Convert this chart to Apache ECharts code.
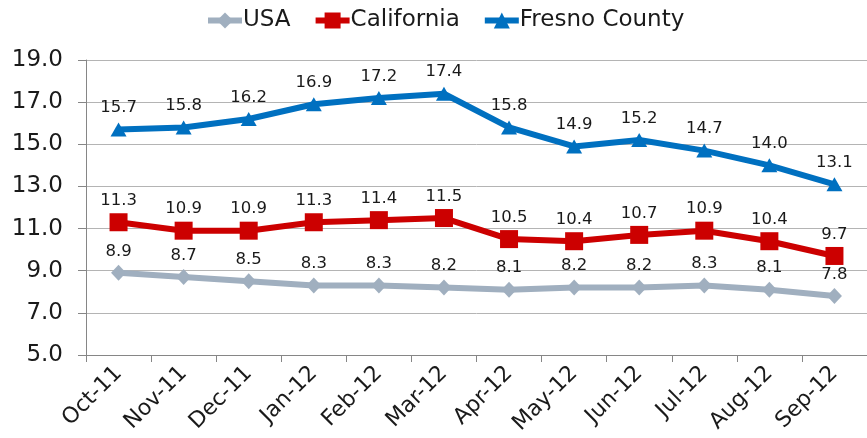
<!DOCTYPE html>
<html>
<head>
<meta charset="utf-8">
<script src="https://cdn.jsdelivr.net/npm/echarts@6/dist/echarts.min.js"></script>
<style>
  html, body { margin: 0; padding: 0; background: #ffffff; }
  #chart { width: 867px; height: 438px; }
</style>
</head>
<body>
<div id="chart"></div>
<script>
// Monthly unemployment rate (%), Oct 2011 – Sep 2012
const months = ['Oct-11', 'Nov-11', 'Dec-11', 'Jan-12', 'Feb-12', 'Mar-12',
                'Apr-12', 'May-12', 'Jun-12', 'Jul-12', 'Aug-12', 'Sep-12'];
const usa = [8.9, 8.7, 8.5, 8.3, 8.3, 8.2, 8.1, 8.2, 8.2, 8.3, 8.1, 7.8];
const california = [11.3, 10.9, 10.9, 11.3, 11.4, 11.5, 10.5, 10.4, 10.7, 10.9, 10.4, 9.7];
const fresno = [15.7, 15.8, 16.2, 16.9, 17.2, 17.4, 15.8, 14.9, 15.2, 14.7, 14.0, 13.1];

const FONT = '"DejaVu Sans", Verdana, sans-serif';
const TEXT = '#1a1a1a';

function lineSeries(name, data, color, symbol, size, dist) {
  return {
    name: name,
    type: 'line',
    data: data,
    symbol: symbol,
    symbolSize: size,
    lineStyle: { color: color, width: 6 },
    itemStyle: { color: color },
    label: {
      show: true,
      position: 'top',
      distance: dist,
      color: TEXT,
      fontFamily: FONT,
      fontSize: 16.5,
      formatter: p => p.value.toFixed(1)
    },
    emphasis: { disabled: true },
    animation: false
  };
}

const chart = echarts.init(document.getElementById('chart'));
chart.setOption({
  backgroundColor: '#ffffff',
  animation: false,
  legend: {
    left: 200,
    top: 4,
    itemWidth: 34,
    itemHeight: 20,
    itemGap: 22,
    lineStyle: { width: 6 },
    textStyle: { fontFamily: FONT, fontSize: 23, color: TEXT, padding: [0, 0, 0, -4] },
    data: ['USA', 'California', 'Fresno County']
  },
  grid: { left: 86, right: -8, top: 60, bottom: 83, containLabel: false },
  xAxis: {
    type: 'category',
    data: months,
    boundaryGap: true,
    axisLine: { lineStyle: { color: '#868686', width: 1 } },
    axisTick: { show: true, length: 7, lineStyle: { color: '#868686' } },
    axisLabel: {
      rotate: 45,
      margin: 15,
      interval: 0,
      color: TEXT,
      fontFamily: FONT,
      fontSize: 22
    },
    splitLine: { show: false }
  },
  yAxis: {
    type: 'value',
    min: 5,
    max: 19,
    interval: 2,
    axisLine: { show: true, lineStyle: { color: '#868686', width: 1 } },
    axisTick: { show: true, length: 8, lineStyle: { color: '#868686' } },
    axisLabel: {
      margin: 23,
      color: TEXT,
      fontFamily: FONT,
      fontSize: 23,
      formatter: v => v.toFixed(1)
    },
    splitLine: { show: true, lineStyle: { color: '#b4b4b4', width: 1 } }
  },
  series: [
    lineSeries('USA', usa, '#a0afbf', 'diamond', [15, 16], 5),
    lineSeries('California', california, '#cc0000', 'rect', 18, 4),
    lineSeries('Fresno County', fresno, '#0070c0', 'triangle', [16, 14], 6)
  ]
});
</script>
</body>
</html>
